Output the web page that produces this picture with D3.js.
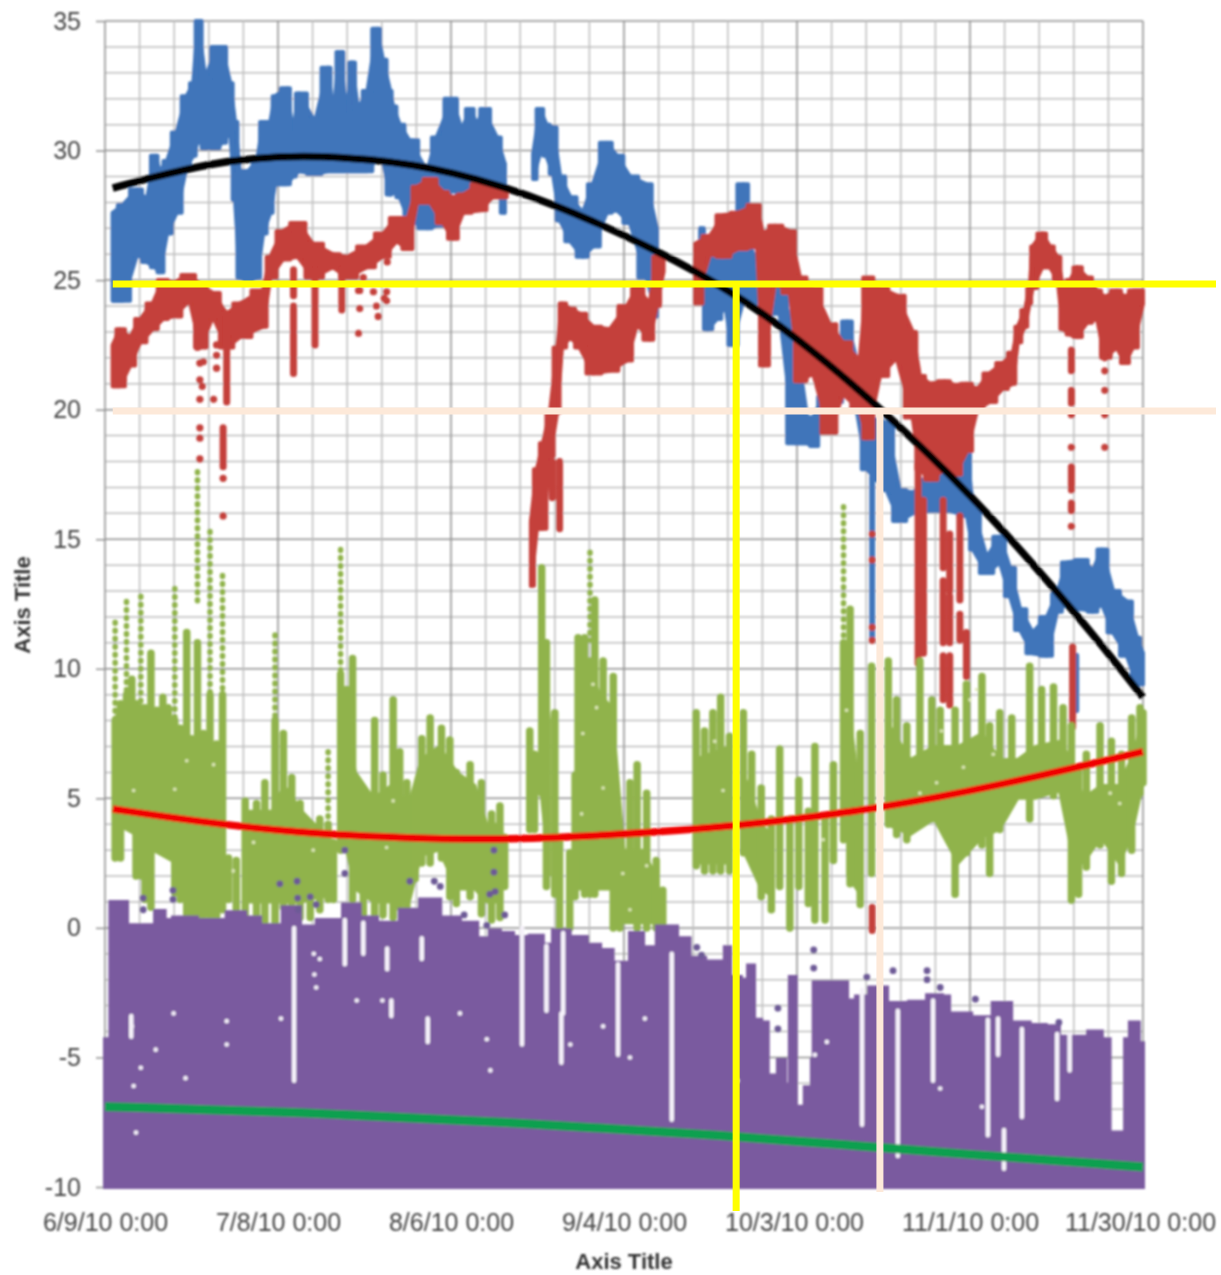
<!DOCTYPE html>
<html><head><meta charset="utf-8">
<script src="https://cdn.jsdelivr.net/npm/d3@7/dist/d3.min.js"></script>
<style>html,body{margin:0;padding:0;background:#fff}svg{display:block}text{font-family:"Liberation Sans",Arial,sans-serif}</style>
</head><body><svg id="c" width="1221" height="1275"></svg>
<script>
const yTickValues=[-10,-5,0,5,10,15,20,25,30,35];
const xTickDays=[0,29,58,87,116,145,174];
const xTickLabels=["6/9/10 0:00","7/8/10 0:00","8/6/10 0:00","9/4/10 0:00","10/3/10 0:00","11/1/10 0:00","11/30/10 0:00"];
const axisTitle="Axis Title";
// each row: day since 6/9/10, high, low
const blueBand=[[1.3,27.6,24.2],[3,27.9,24.2],[5.4,28.5,26],[7,28.1,25.7],[8.4,29.8,25.5],[9.2,29.2,25.3],[10.4,29.6,26.8],[12,30.7,27.6],[13.7,32.1,29.4],[14.8,32.6,29.8],[15.6,35,30.4],[16.8,32.8,30.1],[18.8,34,30.1],[19.6,34,30.3],[21,32.6,30.7],[21.8,31.1,28.1],[22.6,29.2,25.1],[24,29.2,25],[25.5,29.6,25.1],[26.5,31.1,26.8],[27.7,31.1,27.6],[28.5,32.1,28.7],[30.5,32.4,28.7],[31.5,30.7,29],[32.5,32.2,29.2],[35.2,31.1,29.1],[37.4,33.2,29.2],[38.2,31.4,29.2],[39.4,33.8,29.2],[40.5,31.4,29.2],[41.4,33.4,29.2],[42.4,31.6,29.2],[44,32.3,29.2],[45.6,34.7,29.7],[46.6,33.5,29.6],[47.8,32.3,28.3],[48.3,31.7,28.4],[49.4,31,28.2],[51,30.4,27.3],[54,29.2,27],[55.6,30.5,27.1],[58.2,32,28.5],[59.8,30.8,28.2],[61.2,31.6,28.5],[62.4,31,28.5],[63.4,31.6,28.7],[65.7,30.5,28.9],[67,29.5,27.6],[68,null,null],[71.8,29.9,28.9],[72.9,31.6,29.9],[74,31,29.8],[75.1,30.9,29.1],[76.3,29,27.3],[78,28.2,26.5],[80.1,27.6,25.9],[81.8,28.7,26.3],[84.1,30.3,27.6],[85.8,29.8,27.7],[88,29,27.2],[90.8,28.7,25.1],[92.5,27,23.6],[94,null,null],[99.8,27,26],[101,26,23.1],[102.6,26,23.5],[104,25.8,24],[105,25.8,22.5],[107,28.7,24.2],[108.6,26,24.2],[113.1,24.7,23.7],[115.6,23.1,18.7],[117.7,19.7,18.7],[118.7,19.7,18.6],[120.4,20.5,19.5],[122.7,21.1,20.3],[124.4,23.4,22],[126,21.9,20],[127.7,19.7,17.7],[129.4,19.6,17.3],[131,19.5,16.9],[133.2,16.9,15.7],[135.4,16.8,16],[138.3,17.3,16.1],[141.6,17.7,16.1],[144.5,18.4,15.9],[145.5,16.2,14.6],[147.8,14.3,13.7],[150,15.1,14.1],[151.7,13.9,12.8],[153.4,12.3,11.5],[155.5,11.4,10.6],[157.9,12,10.5],[159.6,12.9,12.2],[161.2,14.1,12.5],[163.9,14.2,12.3],[165.6,13.8,12.2],[167.1,14.6,12.5],[169,13,11.4],[171.3,12.6,10.5],[173,11.2,9.4],[174,10.6,9.4]];
const blueColumns=[[128.6,17.4,11.2],[162.8,10.5,8.4]];
const redBand=[[1.3,22.5,20.9],[2.5,23.1,20.9],[4.2,22.8,21.7],[5.9,23.5,22.6],[8,24.1,23.1],[9.7,25,23.5],[11.4,24.9,23.6],[14.2,25.2,24.2],[16,24.8,22.4],[18.1,24.5,23.6],[20.4,23.7,22.4],[22.6,24.1,22.8],[26.5,24.6,23.2],[27.7,25.9,25.1],[29.8,26.9,25.8],[32.3,27.2,25.9],[34.9,26.4,25.1],[38.2,26,25.5],[40.6,25.9,25.1],[43.9,26.3,25.5],[46.6,26.8,25.9],[48.9,27.4,26.5],[50.8,27.4,26.2],[52.3,28.6,28],[54.5,28.9,28],[56.7,28.4,27.2],[58.3,28.2,26.6],[60,28.3,27.6],[62.9,28.7,27.7],[65,28.6,28.2],[67.3,28.6,28.2],[68.3,null,null],[71.4,15.7,13.2],[72.4,17.7,15.4],[73.4,18.7,15.4],[74.6,19.9,18.2],[75.8,22.4,19.9],[76.6,24.1,22.4],[78,23.9,22.8],[79.6,23.7,22.4],[81.8,23.2,21.4],[84.6,23.1,21.5],[87.5,24,21.9],[89.2,24.7,23.3],[91.3,24.1,22.7],[92.5,25.9,24],[93.6,25.9,25.3],[94.6,null,null],[98.9,26.4,24.1],[101.4,26.7,26],[103.6,27.5,25.9],[106.1,27.6,26.2],[109.3,27.9,26.3],[110.3,26.8,21.7],[112.3,27.1,24.9],[114.8,26.9,24.5],[116.5,25.1,21.1],[118.7,24.7,21.4],[121.5,23.3,19.1],[123.7,22.6,20.6],[126.5,21.9,20],[127.7,25.1,18.9],[129.9,24.7,21.3],[132.7,24.4,22],[135.4,23,19.7],[136.6,21.3,17.7],[138.3,21,17.3],[140.8,21.1,17.7],[142.5,20.95,17.5],[144.5,21,18.4],[146.2,20.8,20],[148.3,21.4,20.3],[150.5,21.8,20.8],[152.2,22.2,21],[153,23.2,22.6],[154.2,23.85,23.2],[155,24.7,24.1],[155.5,26.3,24.7],[157.1,26.8,25.5],[158.4,26.3,25.5],[159.7,25.9,25],[160.6,24.7,23.1],[161.8,25,22.9],[162.9,25.5,22.8],[164.6,25.1,23.35],[166.3,24.6,23.5],[167.6,24.35,22],[169.6,24.6,22.4],[171,24.35,21.8],[172.3,24.6,22.4],[174,24.6,24.1]];
const redColumns=[[15.5,23.2,22.4],[20.4,23.7,20.3],[19.8,19.3,17.8],[31.6,25.4,24.4],[31.6,24,21.4],[35.2,25.4,22.5],[39.7,25.4,23.85],[75,18,16.6],[76.2,18,15.4],[136.3,18,10.2],[137.2,16.5,10.6],[140.5,16.5,13.9],[140.5,13.4,11],[140.5,10.5,8.8],[141.6,15.2,13],[141.6,12.8,11],[141.6,10.5,8.6],[143.3,15.9,12.65],[143.3,12.1,11.1],[144.4,11.4,9.7],[162,22.3,21.5],[162,20.75,20.25],[162,17.8,16.9],[162,16.4,16.1],[162.2,10.85,7.75],[128.6,0.8,-0.1]];
const redDots=[[15.9,21.8],[15.9,21.15],[16.3,20.9],[15.9,20.4],[15.9,19.3],[15.9,18.9],[15.9,18.1],[16.5,21.85],[18.7,22.5],[18.7,22.1],[18.7,21.6],[18.2,20.4],[19.8,17.35],[19.8,15.9],[42.5,24.6],[42.7,23.9],[42.5,22.95],[45.8,23.6],[45,24.55],[47.2,24.55],[45.5,24],[47.2,24.2],[43.3,25.1],[47.3,25.7],[42.7,24.6],[46.8,24.3],[162,19.8],[162,18.55],[162,15.5],[167.6,22],[167.6,21.5],[167.6,20.75],[167.6,19.8],[167.6,18.55],[128.6,11.6],[128.6,11.1],[128.6,15.2],[128.6,14.2]];
const greenCore=[[2,8.2,4],[6,7.8,3.5],[8,7.5,3],[12,7,2.5],[15,6,2],[19,5.5,1.5],[21,null,null],[24,4.5,1],[28,4.5,1],[30,5.5,1],[33,4.5,1],[36,3.8,1.2],[38,3,1.2],[39.2,null,null],[40,8,3.5],[42,6,1.5],[45,5,1],[48,5.5,1],[51,4.8,1],[53,6.5,2.8],[56,7,3],[59,6,1.5],[62,5.5,1.5],[64,4,1],[66.5,4,1],[68,null,null],[73.2,11,5],[74.5,8,2],[76,null,null],[79.5,8.5,1.5],[81,10,1.5],[83,9,1.5],[85,8.5,1.5],[87,3,0.2],[90,3,0.2],[92.5,2,0.2],[94,null,null],[99,6.5,2.5],[104.7,7,2.5],[106,null,null],[107,6,3],[110,4,1.5],[112,3.5,1.2],[113.5,null,null],[124.5,9,2],[126,6,1.5],[128,null,null],[131,8,4],[135,6.5,3.6],[139,7,4.2],[143,7,2.5],[147,7.5,3.5],[150,6.5,3.8],[153,6.5,5],[156,7,5],[160,7.2,5.3],[162,6.5,3],[164,5,2.5],[167,5.5,3.5],[170,5.5,2.5],[172,6.5,3.5],[174,8,5.6]];
const greenColumns=[[1.7,8,2.7],[2.6,8.65,2.7],[3.6,9,5.6],[4.5,9.6,6],[5.2,8.65,2],[6,8.5,2],[6.7,8.5,1.1],[7.7,10.6,0.8],[8.7,8.4,3.1],[9.7,8.9,3.1],[10.6,8.5,4.1],[11.7,8,1.35],[12.6,7.7,1.1],[13.7,11.4,0.4],[14.5,7.3,0.4],[15.5,11,0.4],[16.5,7.5,0.5],[17.6,9,0.2],[18.7,7.1,0.2],[19.7,9,0.7],[20.7,2.7,1.1],[22,2.6,0.7],[23.5,4.9,0.5],[25.4,4.8,0],[26.8,5.6,0.1],[28.5,8,0.2],[29.9,7.5,0.8],[31.3,5.8,0.5],[32.7,4.8,0.4],[34.4,3.4,0.4],[36,4.2,0.7],[37.4,4,1.1],[38.3,3.3,1.1],[39.5,9.8,3],[40.5,9.2,3.5],[41.5,10.4,1.1],[43.3,5.1,0.5],[45.2,8,0.4],[46.6,5.9,0.5],[48.3,8.8,0.4],[49.4,6.8,0.8],[50.6,5.6,0.5],[52,5.2,1.9],[53.1,7.3,2.5],[54.5,8.1,2.5],[56.4,7.7,2.7],[57.8,7.25,1.2],[58.9,6,0.94],[61.2,6.3,1.2],[63.1,5.6,0.55],[64.8,4.4,0.3],[66.2,4.7,0.4],[67,3.5,1.6],[71.2,7.6,3.8],[72,6.7,3.8],[73.2,13.9,5.2],[74,11,1.6],[75.4,8.3,1.3],[76.2,3.5,0],[77.9,2.9,0],[78.8,5.9,1.2],[79.3,11.2,3.5],[80.4,11.2,1.3],[81.3,10.3,1.3],[82.1,12.65,1.3],[83.5,10.3,1.7],[85.2,9.7,0],[86.3,2.9,0],[88,5.6,0.3],[89.2,6.3,0],[90.8,5.2,0],[92.4,2.6,0],[93.5,1.45,0],[99.1,8.3,2.4],[100.5,7.6,2.2],[101.9,8.3,2.2],[103.2,8.9,2.2],[104.7,7.4,2.2],[107,8.3,2.9],[108.4,6.7,2.7],[110,5.4,1.2],[111.7,4.2,0.7],[113.1,6.9,1.6],[114.8,4.2,0],[116.3,5.7,1.6],[117.9,4.5,0.94],[119,7,0.3],[120.7,4.3,0.3],[122.1,6.3,2.6],[123.8,11,3.4],[124.9,12.3,1.7],[126.6,7.5,0.9],[128.5,10.1,2.1],[131.3,10.3,4],[132.7,8.8,3.6],[134.4,7.8,3.4],[136.6,10.3,4.9],[138.6,8.8,4.2],[140,8.4,4],[142.5,8.4,1.3],[144.4,9.4,2.9],[147,9.7,3.2],[148.3,7.8,2.1],[150,8.3,3.8],[152,8.1,5.2],[155,10.1,4.2],[157,9.2,5.2],[159,9.3,5.1],[160.6,8.5,6.2],[162,7.8,1.07],[163.2,6.2,1.3],[164.5,6.7,2.35],[166.8,7.8,3.2],[168.7,7.2,1.8],[170.4,6.7,2.1],[172.1,8.1,3],[173.5,8.5,5.2],[174,8.3,5.6]];
const greenSpikes=[[1.7,11.8,8],[3.6,12.6,9],[6,12.8,8.5],[11.7,13.1,8],[15.5,17.6,12.5],[15.5,11,8.5],[17.6,15.3,9],[19.7,13.6,9],[28.5,11.3,8],[37.4,6.8,4],[39.5,14.6,9.8],[81.3,14.5,11.1],[123.8,16.25,11]];
const greenSpecks=[[81.8,9.4],[82.4,8.5],[80.1,7.5],[83.5,5.4],[79.9,4.4],[86.8,2.1],[88,0.7],[90.8,2.4],[102.2,7.2],[103.6,5.3],[13.7,6.45],[11.7,5.35],[18.2,6.3],[4.8,5.3],[21.5,2.2],[24.9,3.3],[34.9,3],[47.2,3.1],[48.3,4.9],[140.2,7.6],[145,8.8],[143.9,6.2],[136.6,5.2],[139.4,5.6],[148.9,6.7],[146.1,9.2],[124.3,8.4],[120.4,3.4],[168.5,5.2],[170.1,4.8]];
// each row: day since 6/9/10, top of the solid purple mass
const purpleTop=[[0,-4.3],[0.9,1],[3.7,0.1],[4.7,0.1],[8.4,0.65],[10,0.3],[11.4,0.4],[15.4,0.3],[20.4,0.6],[23.5,0.4],[26,0.1],[29.8,0.8],[32.7,0.05],[35.5,0.3],[39.9,0.9],[42.7,0.4],[45.6,0.2],[49.4,0.7],[52.8,1.1],[56.2,0.4],[59.5,0.2],[62.4,-0.4],[64.5,-0.1],[66.2,-0.2],[68.4,-0.35],[71.2,-0.3],[73.4,-0.65],[75.1,-0.1],[77.9,-0.35],[80.8,-0.65],[83,-0.85],[85.1,-1.35],[88,-0.2],[90.2,-0.75],[92.5,0.05],[95.9,-0.4],[98,-1.15],[100.6,-1.3],[103.9,-0.75],[104.8,-1.9],[106.6,-2],[107.8,-1.45],[108.8,-3.55],[110,-3.65],[111.1,-5.7],[112.8,-5.1],[114,-6.05],[114.8,-1.9],[115.8,-6.9],[117.3,-6.15],[118.5,-5.1],[118.8,-2.1],[121.4,-2.1],[124.4,-2.8],[125.9,-2.65],[128.1,-2.3],[131.1,-2.9],[134.8,-2.85],[137.8,-2.6],[140.3,-2.65],[141.5,-3.3],[145.2,-3.45],[148.8,-2.9],[151.9,-3.65],[155,-3.75],[157.7,-3.8],[159.9,-4.2],[164.8,-4],[167.1,-4.3],[168.4,-7.9],[171,-4.3],[171.8,-3.65],[173.3,-4.45],[174,-6.9]];
const purpleGaps=[[31.7,0,-5.9],[40.2,0.3,-1.4],[53.1,-0.4,-1.2],[54.1,-3.5,-4.4],[69.9,0,-4.5],[74,-0.7,-3.2],[76.8,-0.2,-3.3],[76.5,-3.3,-5.2],[86,-1.4,-4.9],[95,-1,-7.4],[126.9,-2.4,-7.6],[132.9,-3.2,-8.8],[138.8,-2.8,-5.9],[148,-3.55,-8],[149.7,-3.5,-4.9],[150.7,-7.8,-9.3],[153.7,-3.9,-7.3],[159.6,-4.1,-6.6],[161.7,-4.1,-5.5],[4.4,-3.4,-4.2],[43.3,0.2,-1],[47.3,-0.8,-1.6],[48,-2.8,-3.4]];
const purpleSpecks=[[4.5,-3.8],[6,-5.4],[5.2,-7.9],[13.5,-5.8],[20.4,-4.5],[20.4,-3.6],[29.5,-3.5],[35,-1],[35.1,-1.8],[35.4,-2.3],[4.8,-6.1],[11.5,-3.3],[8.5,-4.7],[36,-1.2],[42.2,-2.8],[46.5,-2.8],[59.5,-3.3],[64,-4.3],[64.6,-5.5],[83.5,-3.8],[88,-5],[106,-5.9],[119,-4.9],[121,-4.4],[140,-6.2],[147,-6.9],[78,-4.5],[90.5,-3.5]];
const purpleDots=[[6.4,1.15],[6.4,0.7],[11.4,1.45],[11.4,1.1],[29.3,1.7],[32.2,1.8],[32.3,1.15],[32.4,0.7],[34.4,1.2],[35.4,0.9],[40.2,3],[40.2,2.1],[51.1,1.8],[55.2,1.8],[56.2,1.6],[65.2,3],[65.2,2.15],[64.5,1.3],[65.4,1.4],[60.2,0.5],[67,0.5],[64,0.1],[99.2,-0.75],[100,-1.05],[112.8,-3.1],[112.8,-3.9],[118.8,-0.85],[118.8,-1.55],[127.7,-1.9],[132.1,-1.65],[137.8,-1.65],[137.8,-2],[140,-2.3],[145.9,-2.75],[159.9,-3.65]];
const blackTrend=[[1.3,28.55],[7.5,28.94],[18.1,29.52],[24.8,29.7],[32.7,29.8],[43.9,29.7],[57.8,29.25],[75.1,28],[92.5,26.16],[104.8,24.6],[115.9,22.8],[129.9,20.1],[145.7,16.6],[158.4,13.3],[166.8,11],[174,8.9]];
const redTrend=[[1.3,4.59],[15.9,4.09],[32.7,3.66],[49.4,3.47],[66.2,3.39],[83,3.55],[105.6,3.9],[129.9,4.6],[150,5.5],[174,6.8]];
const greenTrend=[[0,-6.9],[32.7,-7.1],[66.2,-7.49],[105.6,-8.03],[129.9,-8.49],[174,-9.23]];
const markerLines={yellowLevel:24.85,yellowDay:105.8,paleLevel:19.95,paleDay:129.9};

const x=d3.scaleLinear().domain([0,174]).range([105,1143]);
const y=d3.scaleLinear().domain([-10,35]).range([1187,21]);
const svg=d3.select("#c");
const defs=svg.append("defs");
defs.append("filter").attr("id","soft").attr("x","-5%").attr("y","-5%").attr("width","110%").attr("height","110%")
  .append("feGaussianBlur").attr("stdDeviation",0.8);
const root=svg.append("g").attr("filter","url(#soft)");

// grid
const minorH=d3.range(-10,36,1), minorV=d3.range(0,174.01,5.8);
root.append("g").selectAll("line").data(minorH).join("line").attr("x1",105).attr("x2",1143).attr("y1",d=>y(d)).attr("y2",d=>y(d)).attr("stroke",d=>d%5===0?"#8f8f8f":"#bdbdbd").attr("stroke-width",1.5);
root.append("g").selectAll("line").data(minorV).join("line").attr("x1",d=>x(d)).attr("x2",d=>x(d)).attr("y1",21).attr("y2",1187).attr("stroke",(d,i)=>i%5===0?"#8f8f8f":"#bdbdbd").attr("stroke-width",1.5);

// axes
const yAxis=d3.axisLeft(y).tickValues(yTickValues).tickFormat(d=>String(d)).tickSize(9).tickPadding(15);
const gy=root.append("g").attr("transform","translate(105,0)").call(yAxis);
gy.select(".domain").remove();
gy.selectAll("line").attr("stroke","#8f8f8f").attr("stroke-width",1.5);
gy.selectAll("text").attr("fill","#444").style("font-size","25px").style("font-family",'"Liberation Sans",sans-serif');
const xAxis=d3.axisBottom(x).tickValues(xTickDays).tickFormat((d,i)=>xTickLabels[i]).tickSize(0).tickPadding(26);
const gx=root.append("g").attr("transform","translate(0,1187)").call(xAxis);
gx.select(".domain").remove();
gx.selectAll("text").attr("fill","#444").style("font-size","25px").style("font-family",'"Liberation Sans",sans-serif').attr("x",d=>d===174||d===116?-3:0);

root.append("text").attr("x",624).attr("y",1269).attr("text-anchor","middle").attr("font-size",22).attr("font-weight","bold").attr("fill","#333").text(axisTitle);
root.append("text").attr("transform","translate(30,605) rotate(-90)").attr("text-anchor","middle").attr("font-size",22).attr("font-weight","bold").attr("fill","#333").text(axisTitle);

const stepArea=d3.area().curve(d3.curveStep).defined(d=>d[1]!==null).x(d=>x(d[0])).y0(d=>y(d[2])).y1(d=>y(d[1]));
const joinArea=d3.area().defined(d=>d[1]!==null).x(d=>x(d[0])).y0(d=>y(d[2])).y1(d=>y(d[1]));
function band(data,color,w){
  [joinArea,stepArea].forEach(a=>root.append("path").attr("d",a(data)).attr("fill",color).attr("stroke",color).attr("stroke-width",w).attr("stroke-linejoin","round"));
}
function columns(data,color,w,dash){root.append("g").selectAll("line").data(data).join("line")
  .attr("x1",d=>x(d[0])).attr("x2",d=>x(d[0])).attr("y1",d=>y(d[1])).attr("y2",d=>y(d[2]))
  .attr("stroke",color).attr("stroke-width",w).attr("stroke-linecap","round").attr("stroke-dasharray",dash||null);}
function dots(data,color,r){root.append("g").selectAll("circle").data(data).join("circle").attr("cx",d=>x(d[0])).attr("cy",d=>y(d[1])).attr("r",r).attr("fill",color);}

const BLUE="#3f74ba",RED="#c43f3a",GREEN="#90b34c",PURPLE="#7a5a9f";
band(blueBand,BLUE,4); columns(blueColumns,BLUE,6);
band(redBand,RED,4); columns(redColumns,RED,7); dots(redDots,RED,3.6);
root.append("path").attr("d",joinArea(greenCore)).attr("fill",GREEN).attr("stroke",GREEN).attr("stroke-width",3);
columns(greenColumns,GREEN,7.5); columns(greenSpikes,GREEN,5.5,"1 7"); dots(greenSpecks,"#dfe9b8",1.8);

// purple mass down to the axis floor
const purpleArea=d3.area().curve(d3.curveStepAfter).x(d=>x(d[0])).y0(y(-10)).y1(d=>y(d[1]));
root.append("path").attr("d",purpleArea(purpleTop)).attr("fill",PURPLE).attr("stroke",PURPLE).attr("stroke-width",4);
columns(purpleGaps,"#f6f2fa",4.5); dots(purpleSpecks,"#f3eef8",2.3);
dots(purpleDots,"#6d5a96",3.4);

// trend lines
const trend=d3.line().curve(d3.curveBasis).x(d=>x(d[0])).y(d=>y(d[1]));
function tl(data,color,w){root.append("path").attr("d",trend(data)).attr("fill","none").attr("stroke",color).attr("stroke-width",w);}
tl(blackTrend,"#000",7.5); tl(redTrend,"#f00000",7.5); tl(greenTrend,"#0aa050",9);

// hand-drawn marker lines over the chart
const over=svg.append("g");
over.append("line").attr("x1",x(1.3)).attr("x2",1216).attr("y1",y(markerLines.paleLevel)).attr("y2",y(markerLines.paleLevel)).attr("stroke","#fde9d9").attr("stroke-width",7);
over.append("line").attr("x1",x(markerLines.paleDay)).attr("x2",x(markerLines.paleDay)).attr("y1",y(markerLines.paleLevel)).attr("y2",1192).attr("stroke","#fde9d9").attr("stroke-width",7);
over.append("line").attr("x1",x(1.3)).attr("x2",1216).attr("y1",y(markerLines.yellowLevel)).attr("y2",y(markerLines.yellowLevel)).attr("stroke","#ffff00").attr("stroke-width",7);
over.append("line").attr("x1",x(markerLines.yellowDay)).attr("x2",x(markerLines.yellowDay)).attr("y1",y(markerLines.yellowLevel)).attr("y2",1211).attr("stroke","#ffff00").attr("stroke-width",7);
</script></body></html>
